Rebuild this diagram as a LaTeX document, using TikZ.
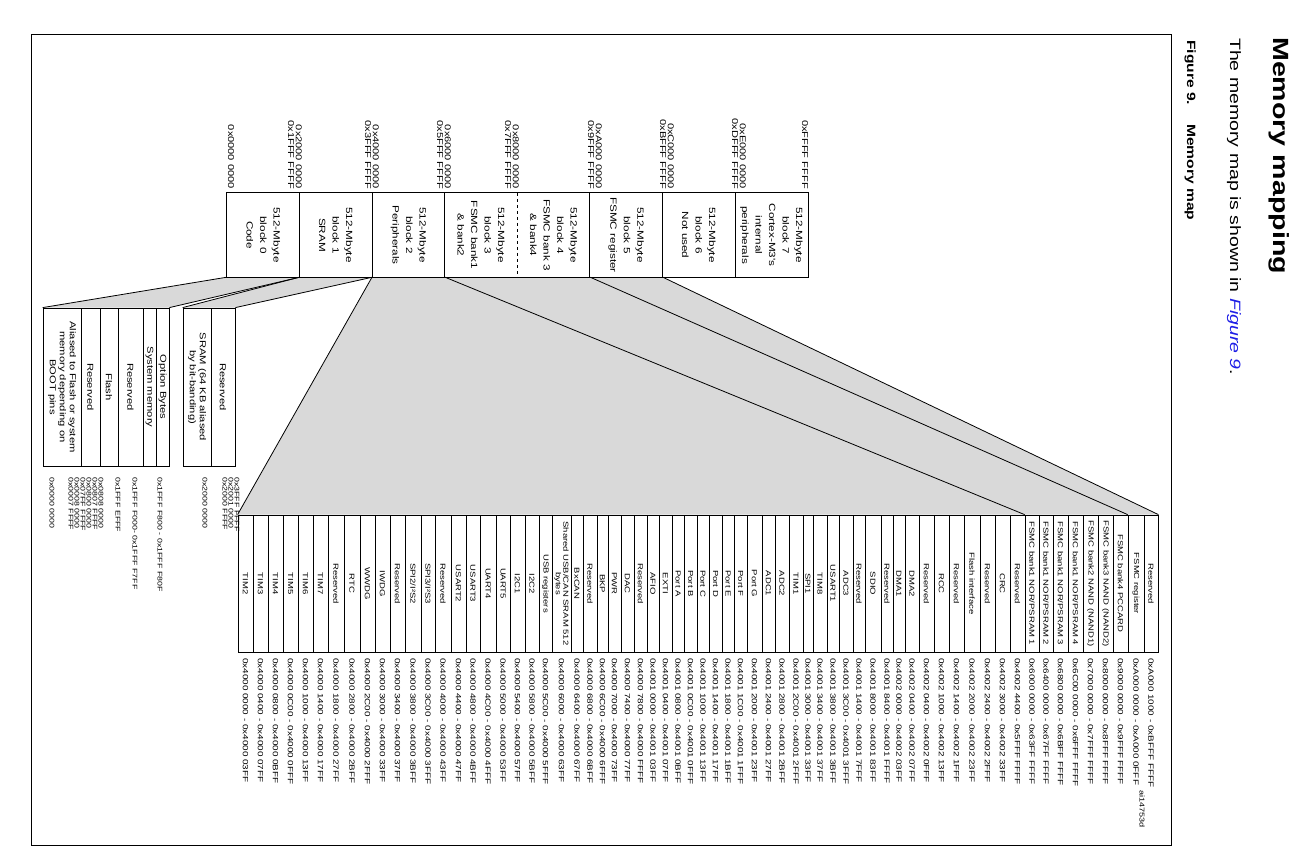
\documentclass[tikz,border=0pt]{standalone}
\usepackage{fontspec}
\newfontfamily\figfont{Liberation Sans}[FakeStretch=1.3]
\definecolor{fillgray}{RGB}{217,217,217}
\definecolor{linkblue}{RGB}{30,30,230}
\tikzset{
  blkbox/.style={rotate=-90, minimum width=84pt, minimum height=72.6pt, inner sep=0pt, align=center, font=\figfont\fontsize{9}{13.5}\selectfont},
  topaddr/.style={rotate=-90, anchor=east, inner sep=0pt, align=right, font=\figfont\fontsize{8.5}{7.8}\selectfont},
  rowbox/.style={draw, line width=0.8pt, rotate=-90, minimum width=137pt, inner sep=0pt, align=center, font=\figfont\fontsize{7.3}{7.5}\selectfont},
  rowaddr/.style={rotate=-90, anchor=west, inner sep=0pt, font=\figfont\fontsize{7.6}{8}\selectfont},
  codebox/.style={draw, line width=0.8pt, rotate=-90, minimum width=158pt, inner sep=0pt, align=center, font=\figfont\fontsize{8.6}{10}\selectfont},
  codeaddr/.style={rotate=-90, anchor=west, inner sep=0pt, font=\figfont\fontsize{6.8}{6}\selectfont},
  link/.style={line width=0.8pt}
}
\begin{document}
\begin{tikzpicture}[x=1pt, y=-1pt]
\useasboundingbox (0,0) rectangle (1304,859);
\draw[line width=1pt] (31,35) rectangle (1171,845);

% heading
\node[rotate=-90, anchor=base west, inner sep=0pt, font=\figfont\bfseries\fontsize{22}{26}\selectfont] (heading) at (1273,37) {Memory mapping};
\node[rotate=-90, anchor=base west, inner sep=0pt, font=\figfont\fontsize{15}{18}\selectfont] (intro) at (1230,38) {The memory map is shown in \textcolor{linkblue}{\itshape Figure 9}.};
\node[rotate=-90, anchor=base west, inner sep=0pt, font=\figfont\bfseries\fontsize{12}{15}\selectfont] (fignum) at (1187,40) {Figure 9.};
\node[rotate=-90, anchor=base west, inner sep=0pt, font=\figfont\bfseries\fontsize{12}{15}\selectfont] (figtitle) at (1187,124) {Memory map};

% the eight 512-Mbyte blocks
\foreach \lab [count=\k from 0] in {
  {512-Mbyte\\block 0\\Code},
  {512-Mbyte\\block 1\\SRAM},
  {512-Mbyte\\block 2\\Peripherals},
  {512-Mbyte\\block 3\\FSMC bank1\\\& bank2},
  {512-Mbyte\\block 4\\FSMC bank 3\\\& bank4},
  {512-Mbyte\\block 5\\FSMC register},
  {512-Mbyte\\block 6\\Not used},
  {512-Mbyte\\block 7\\Cortex-M3's\\internal\\peripherals}}
  \node[blkbox] (b\k) at ({227+72.6*(\k+0.5)},235) {\lab};

% block boundary addresses
\node[topaddr] (t0) at (231,189) {0x0000 0000};
\node[topaddr] (t1) at (295,189) {0x2000 0000\\0x1FFF FFFF};
\node[topaddr] (t2) at (372,189) {0x4000 0000\\0x3FFF FFFF};
\node[topaddr] (t3) at (444,189) {0x6000 0000\\0x5FFF FFFF};
\node[topaddr] (t4) at (512,189) {0x8000 0000\\0x7FFF FFFF};
\node[topaddr] (t5) at (595,189) {0xA000 0000\\0x9FFF FFFF};
\node[topaddr] (t6) at (667,189) {0xC000 0000\\0xBFFF FFFF};
\node[topaddr] (t7) at (739,189) {0xE000 0000\\0xDFFF FFFF};
\node[topaddr] (t8) at (805,189) {0xFFFF FFFF};

% code area detail
\foreach \s/\e/\lab [count=\i] in {
  43/81/{Aliased to Flash or system\\memory depending on\\BOOT pins},
  81/100/Reserved,
  100/118/Flash,
  118/143/Reserved,
  143/156/System memory,
  156/169/Option Bytes}
  \node[codebox, minimum height={(\e-\s)*1pt}] (a\i) at ({(\s+\e)/2},387) {\lab};

% SRAM detail
\foreach \s/\e/\lab [count=\i] in {
  183/211/{SRAM (64 KB aliased\\by bit-banding)},
  211/235/Reserved}
  \node[codebox, minimum height={(\e-\s)*1pt}] (s\i) at ({(\s+\e)/2},387) {\lab};

\foreach \x/\adr in {
  52/0x0000 0000, 71/0x0007 FFFF, 77/0x0008 0000, 83/0x07FF FFFF,
  89/0x0800 0000, 95/0x0807 FFFF, 101/0x0808 0000, 118/0x1FFF EFFF,
  135/{0x1FFF F000- 0x1FFF F7FF}, 160/{0x1FFF F800 - 0x1FFF F80F},
  205/0x2000 0000, 225/0x2000 FFFF, 231/0x2001 0000, 237/0x3FFF FFFF}
  \node[codeaddr] at (\x,477) {\adr};

% peripheral and FSMC detail
\foreach \s/\e/\lab/\adr [count=\i] in {
  238/253/TIM2/{0x4000 0000 - 0x4000 03FF},
  253/268/TIM3/{0x4000 0400 - 0x4000 07FF},
  268/283/TIM4/{0x4000 0800 - 0x4000 0BFF},
  283/298/TIM5/{0x4000 0C00 - 0x4000 0FFF},
  298/313/TIM6/{0x4000 1000 - 0x4000 13FF},
  313/328/TIM7/{0x4000 1400 - 0x4000 17FF},
  328/344/Reserved/{0x4000 1800 - 0x4000 27FF},
  344/360/RTC/{0x4000 2800 - 0x4000 2BFF},
  360/375/WWDG/{0x4000 2C00 - 0x4000 2FFF},
  375/390/IWDG/{0x4000 3000 - 0x4000 33FF},
  390/405/Reserved/{0x4000 3400 - 0x4000 37FF},
  405/421/{SPI2/I²S2}/{0x4000 3800 - 0x4000 3BFF},
  421/435/{SPI3/I²S3}/{0x4000 3C00 - 0x4000 3FFF},
  435/451/Reserved/{0x4000 4000 - 0x4000 43FF},
  451/466/USART2/{0x4000 4400 - 0x4000 47FF},
  466/480/USART3/{0x4000 4800 - 0x4000 4BFF},
  480/496/UART4/{0x4000 4C00 - 0x4000 4FFF},
  496/510/UART5/{0x4000 5000 - 0x4000 53FF},
  510/525/I2C1/{0x4000 5400 - 0x4000 57FF},
  525/539/I2C2/{0x4000 5800 - 0x4000 5BFF},
  539/552/USB registers/{0x4000 5C00 - 0x4000 5FFF},
  552/571/{Shared USB/CAN SRAM 512\\bytes}/{0x4000 6000 - 0x4000 63FF},
  571/583/BxCAN/{0x4000 6400 - 0x4000 67FF},
  583/597/Reserved/{0x4000 6800 - 0x4000 6BFF},
  597/608/BKP/{0x4000 6C00 - 0x4000 6FFF},
  608/621/PWR/{0x4000 7000 - 0x4000 73FF},
  621/634/DAC/{0x4000 7400 - 0x4000 77FF},
  634/647/Reserved/{0x4000 7800 - 0x4000 FFFF},
  647/659/AFIO/{0x4001 0000 - 0x4001 03FF},
  659/672/EXTI/{0x4001 0400 - 0x4001 07FF},
  672/684/Port A/{0x4001 0800 - 0x4001 0BFF},
  684/697/Port B/{0x4001 0C00 - 0x4001 0FFF},
  697/709/Port C/{0x4001 1000 - 0x4001 13FF},
  709/722/Port D/{0x4001 1400 - 0x4001 17FF},
  722/734/Port E/{0x4001 1800 - 0x4001 1BFF},
  734/747/Port F/{0x4001 1C00 - 0x4001 1FFF},
  747/762/Port G/{0x4001 2000 - 0x4001 23FF},
  762/775/ADC1/{0x4001 2400 - 0x4001 27FF},
  775/789/ADC2/{0x4001 2800 - 0x4001 2BFF},
  789/803/TIM1/{0x4001 2C00 - 0x4001 2FFF},
  803/813/SPI1/{0x4001 3000 - 0x4001 33FF},
  813/827/TIM8/{0x4001 3400 - 0x4001 37FF},
  827/839/USART1/{0x4001 3800 - 0x4001 3BFF},
  839/853/ADC3/{0x4001 3C00 - 0x4001 3FFF},
  853/865/Reserved/{0x4001 1400 - 0x4001 7FFF},
  865/881/SDIO/{0x4001 8000 - 0x4001 83FF},
  881/893/Reserved/{0x4001 8400 - 0x4001 FFFF},
  893/905/DMA1/{0x4002 0000 - 0x4002 03FF},
  905/919/DMA2/{0x4002 0400 - 0x4002 07FF},
  919/934/Reserved/{0x4002 0400 - 0x4002 0FFF},
  934/949/RCC/{0x4002 1000 - 0x4002 13FF},
  949/964/Reserved/{0x4002 1400 - 0x4002 1FFF},
  964/980/Flash interface/{0x4002 2000 - 0x4002 23FF},
  980/995/Reserved/{0x4002 2400 - 0x4002 2FFF},
  995/1010/CRC/{0x4002 3000 - 0x4002 33FF},
  1010/1025/Reserved/{0x4002 4400 - 0x5FFF FFFF},
  1025/1039/{FSMC bank1 NOR/PSRAM 1}/{0x6000 0000 - 0x63FF FFFF},
  1039/1053/{FSMC bank1 NOR/PSRAM 2}/{0x6400 0000 - 0x67FF FFFF},
  1053/1068/{FSMC bank1 NOR/PSRAM 3}/{0x6800 0000 - 0x6BFF FFFF},
  1068/1083/{FSMC bank1 NOR/PSRAM 4}/{0x6C00 0000 - 0x6FFF FFFF},
  1083/1098/FSMC bank2 NAND (NAND1)/{0x7000 0000 - 0x7FFF FFFF},
  1098/1113/FSMC bank3 NAND (NAND2)/{0x8000 0000 - 0x8FFF FFFF},
  1113/1128/FSMC bank4 PCCARD/{0x9000 0000 - 0x9FFF FFFF},
  1128/1144/FSMC register/{0xA000 0000 - 0xA000 0FFF},
  1144/1158/Reserved/{0xA000 1000 - 0xBFFF FFFF}}{
  \node[rowbox, minimum height={(\e-\s)*1pt}] (p\i) at ({(\s+\e)/2},583.5) {\lab};
  \node[rowaddr] (q\i) at ({(\s+\e)/2},658) {\adr};
}

% shaded fans from the blocks to their details
\fill[fillgray] (b0.south east) -- (b0.north east) -- (a6.north west) -- (a1.south west) -- cycle;
\fill[fillgray] (b1.south east) -- (b1.north east) -- (s2.north west) -- (s1.south west) -- cycle;
\fill[fillgray] (b2.south east) -- (b5.north east) -- (p65.north west) -- (p1.south west) -- cycle;
\draw[link] (b0.south east) -- (a1.south west);
\draw[link] (b0.north east) -- (a6.north west);
\draw[link] (b1.south east) -- (s1.south west);
\draw[link] (b1.north east) -- (s2.north west);
\draw[link] (b2.south east) -- (p1.south west);
\draw[link] (b2.north east) -- (p57.south west);
\draw[link] (b4.north east) -- (p64.south west);
\draw[link] (b5.north east) -- (p65.north west);

% block outline, with a dashed line between block 3 and block 4
\draw[line width=1pt] (b0.south west) rectangle (b7.north east);
\foreach \k in {1,2,3,5,6,7}
  \draw[line width=1pt] (b\k.south west) -- (b\k.south east);
\draw[line width=1pt, dashed] (b4.south west) -- (b4.south east);

\node[rotate=-90, anchor=west, inner sep=0pt, font=\figfont\fontsize{7}{8}\selectfont] (ref) at (1142,790) {ai14753d};
\end{tikzpicture}
\end{document}
